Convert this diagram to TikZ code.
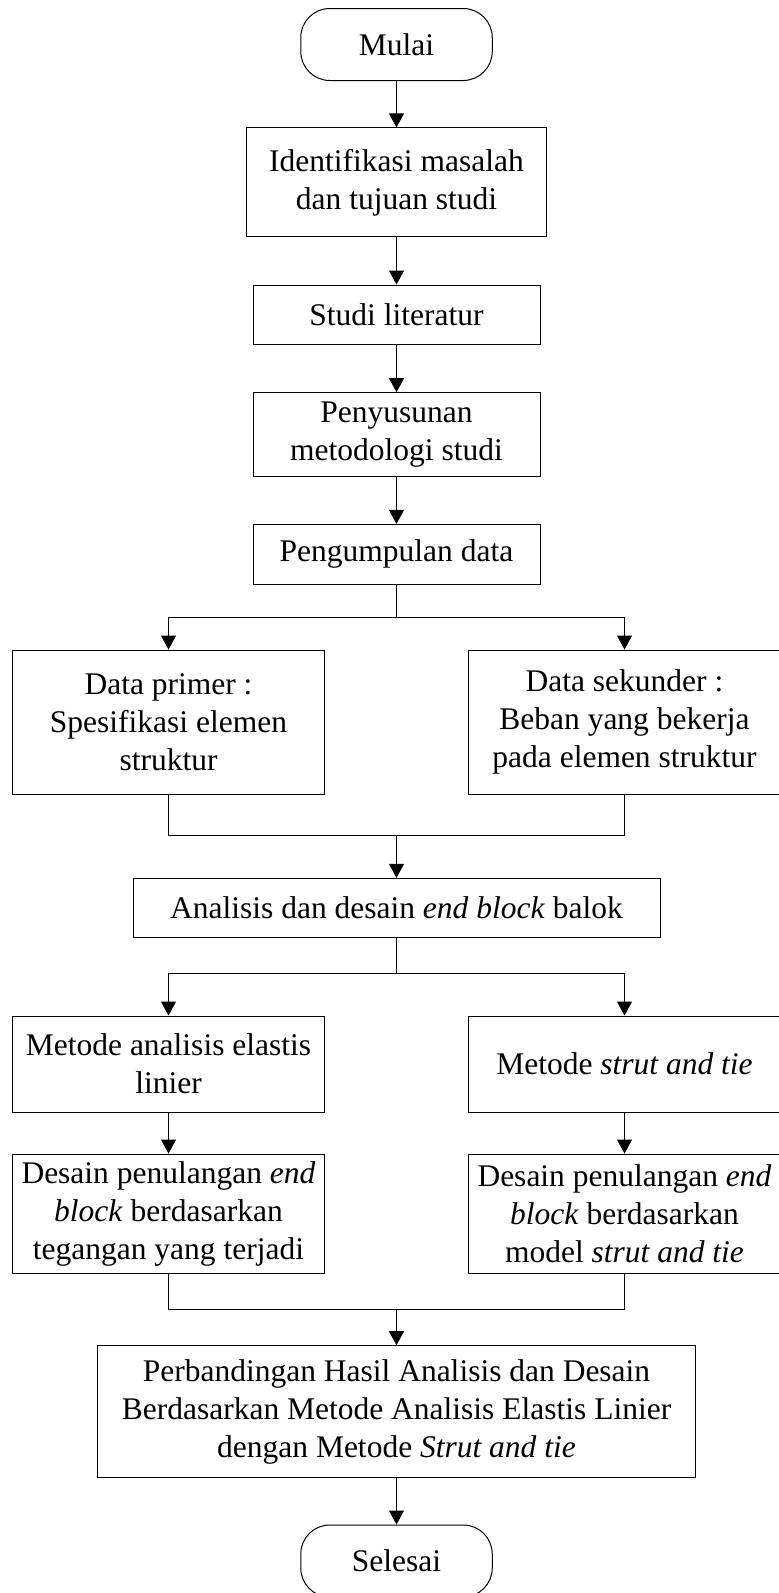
\documentclass[tikz,border=0pt]{standalone}
\usepackage{fontspec}
\setmainfont{Liberation Serif}
\usepackage{tikz}
\usetikzlibrary{arrows.meta,positioning}

\begin{document}
\begin{tikzpicture}[x=1pt,y=-1pt,
  box/.style={draw,line width=1pt,align=center,inner sep=0pt,
              font=\fontsize{31.5}{38}\selectfont},
  terminal/.style={box,rounded corners=29pt,
                   minimum width=191.5pt,minimum height=72pt},
  arr/.style={line width=1pt,-{Triangle[width=15pt,length=14pt]}},
  link/.style={line width=1pt}]
 \useasboundingbox (0,0) rectangle (779,1593);
 % main column
 \node[terminal] (mulai) at (396.5,44.5) {Mulai};
 \node[box,minimum width=299.5pt,minimum height=108.7pt] (ident) at (396.5,182.3) {Identifikasi masalah\\dan tujuan studi};
 \node[box,minimum width=287pt,minimum height=59.3pt] (studi) at (396.5,314.7) {Studi literatur};
 \node[box,minimum width=287pt,minimum height=83.6pt] (metod) at (396.5,434.5) {Penyusunan\\metodologi studi};
 \node[box,minimum width=287pt,minimum height=59.7pt] (kumpul) at (396.5,554.2) {Pengumpulan data};
 \draw[arr] (mulai) -- (ident);
 \draw[arr] (ident) -- (studi);
 \draw[arr] (studi) -- (metod);
 \draw[arr] (metod) -- (kumpul);
 % data
 \node[box,minimum width=312pt,minimum height=144.3pt] (primer) at (168.5,722.2) {Data primer :\\Spesifikasi elemen\\struktur};
 \node[box,minimum width=312pt,minimum height=144.3pt] (sekunder) at (624.5,722.2) {Data sekunder :\\Beban yang bekerja\\pada elemen struktur};
 \coordinate (split1) at (396.5,617.3);
 \draw[link] (kumpul) -- (split1);
 \draw[arr] (split1) -| (primer.north);
 \draw[arr] (split1) -| (sekunder.north);
 \node[box,minimum width=527pt,minimum height=59.4pt] (analisis) at (396.5,908) {Analisis dan desain \textit{end block} balok};
 \coordinate (merge1) at (396.5,835.7);
 \draw[link] (primer.south) |- (merge1) -| (sekunder.south);
 \draw[arr] (merge1) -- (analisis);
 % methods
 \node[box,minimum width=312pt,minimum height=96pt] (elastis) at (168.5,1064) {Metode analisis elastis\\linier};
 \node[box,minimum width=312pt,minimum height=96pt] (strut) at (624.5,1064) {Metode \textit{strut and tie}};
 \coordinate (split2) at (396.5,973.7);
 \draw[link] (analisis) -- (split2);
 \draw[arr] (split2) -| (elastis.north);
 \draw[arr] (split2) -| (strut.north);
 \node[box,minimum width=312pt,minimum height=119.3pt] (desainA) at (168.5,1213.7) {Desain penulangan \textit{end}\\\textit{block} berdasarkan\\tegangan yang terjadi};
 \node[box,minimum width=312pt,minimum height=119.3pt] (desainB) at (624.5,1213.7) {Desain penulangan \textit{end}\\\textit{block} berdasarkan\\model \textit{strut and tie}};
 \draw[arr] (elastis) -- (desainA);
 \draw[arr] (strut) -- (desainB);
 % comparison
 \node[box,minimum width=598.6pt,minimum height=131.6pt] (banding) at (396.5,1411.5) {Perbandingan Hasil Analisis dan Desain\\Berdasarkan Metode Analisis Elastis Linier\\dengan Metode \textit{Strut and tie}};
 \node[terminal] (selesai) at (396.5,1561) {Selesai};
 \coordinate (merge2) at (396.5,1309.3);
 \draw[link] (desainA.south) |- (merge2) -| (desainB.south);
 \draw[arr] (merge2) -- (banding);
 \draw[arr] (banding) -- (selesai);
\end{tikzpicture}
\end{document}
